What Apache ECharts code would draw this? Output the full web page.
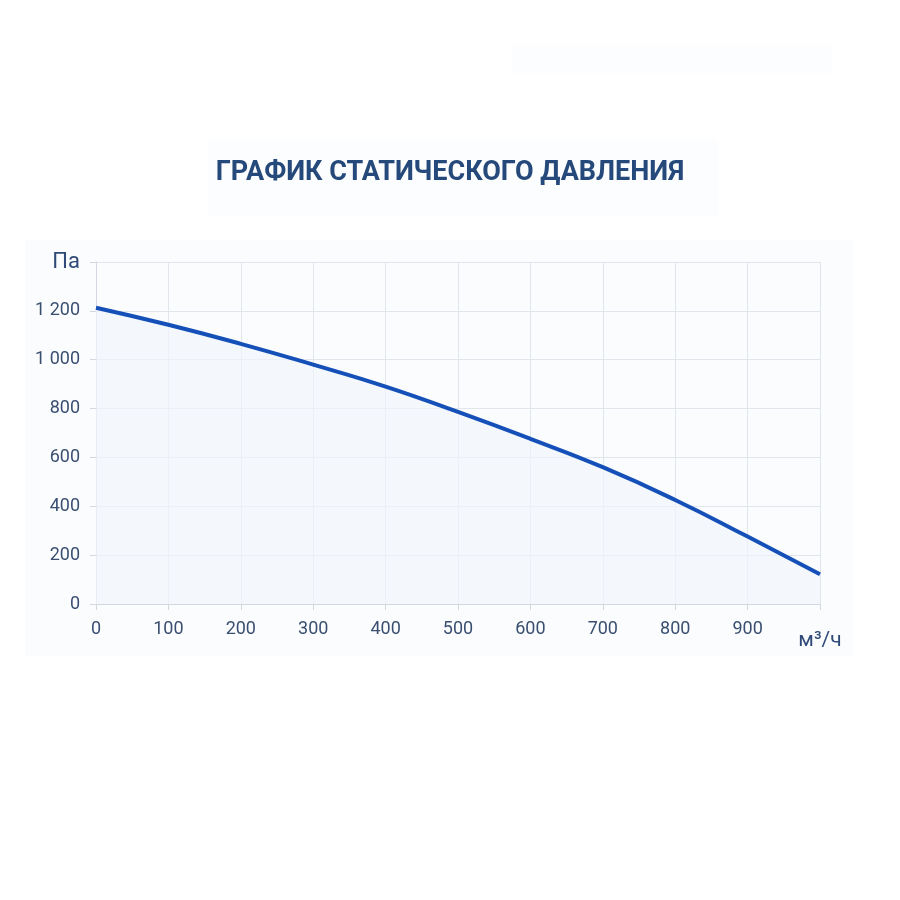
<!DOCTYPE html>
<html><head><meta charset="utf-8">
<script src="https://cdn.jsdelivr.net/npm/echarts@6/dist/echarts.min.js"></script>
<style>html,body{margin:0;padding:0;background:#fff}#c{width:900px;height:900px}</style>
</head><body><div id="c"></div>
<script>
const titleText = 'ГРАФИК СТАТИЧЕСКОГО ДАВЛЕНИЯ';
const flow = [0, 100, 200, 300, 400, 500, 600, 700, 800, 900, 1000];
const pressure = [1213, 1143, 1065, 980, 890, 786, 676, 560, 426, 276, 122];
const xUnit = 'м³/ч';
const yUnit = 'Па';

const chart = echarts.init(document.getElementById('c'));
const fmt = v => String(v).replace(/\B(?=(\d{3})+(?!\d))/g, ' ');
chart.setOption({
  backgroundColor: '#ffffff',
  graphic: [
    {type:'rect', shape:{x:25,y:240,width:828,height:416}, style:{fill:'#fbfcfe'}, z:-10},
    {type:'rect', shape:{x:208,y:140,width:510,height:76}, style:{fill:'#fcfdfe'}, z:-10},
    {type:'rect', shape:{x:512,y:45,width:320,height:28}, style:{fill:'#fcfdfe'}, z:-10}
  ],
  title: {
    text: titleText, left: 'center', top: 155,
    textStyle: {fontFamily: 'Roboto', fontWeight: 'bold', fontSize: 27, color: '#25497a'}
  },
  grid: {left: 96, right: 80, top: 262, bottom: 296},
  xAxis: {
    type: 'value', min: 0, max: 1000, interval: 100,
    axisLine: {show: true, lineStyle: {color: '#d3d8e0'}},
    axisTick: {show: true, length: 6, lineStyle: {color: '#d3d8e0'}},
    splitLine: {show: true, lineStyle: {color: '#e1e5ec'}},
    axisLabel: {
      margin: 16, fontFamily: 'Roboto', fontSize: 18, color: '#3a4f70',
      formatter: v => v === 1000 ? '{u|' + xUnit + '}' : fmt(v),
      rich: {u: {fontSize: 21, color: '#2f4a78', fontFamily: 'Roboto', padding: [10, 0, 0, 0]}}
    }
  },
  yAxis: {
    type: 'value', min: 0, max: 1400, interval: 200,
    axisLine: {show: true, lineStyle: {color: '#d3d8e0'}},
    axisTick: {show: true, length: 6, lineStyle: {color: '#d3d8e0'}},
    splitLine: {show: true, lineStyle: {color: '#e1e5ec'}},
    axisLabel: {
      margin: 16, fontFamily: 'Roboto', fontSize: 18, color: '#3a4f70',
      formatter: v => v === 1400 ? '{u|' + yUnit + '}' : fmt(v),
      rich: {u: {fontSize: 22, color: '#2f4a78', fontFamily: 'Roboto'}}
    }
  },
  series: [{
    type: 'line', smooth: true, symbol: 'none',
    data: flow.map((x, i) => [x, pressure[i]]),
    lineStyle: {color: '#1550b8', width: 4},
    areaStyle: {color: '#f1f5fb'}
  }]
});
</script></body></html>
